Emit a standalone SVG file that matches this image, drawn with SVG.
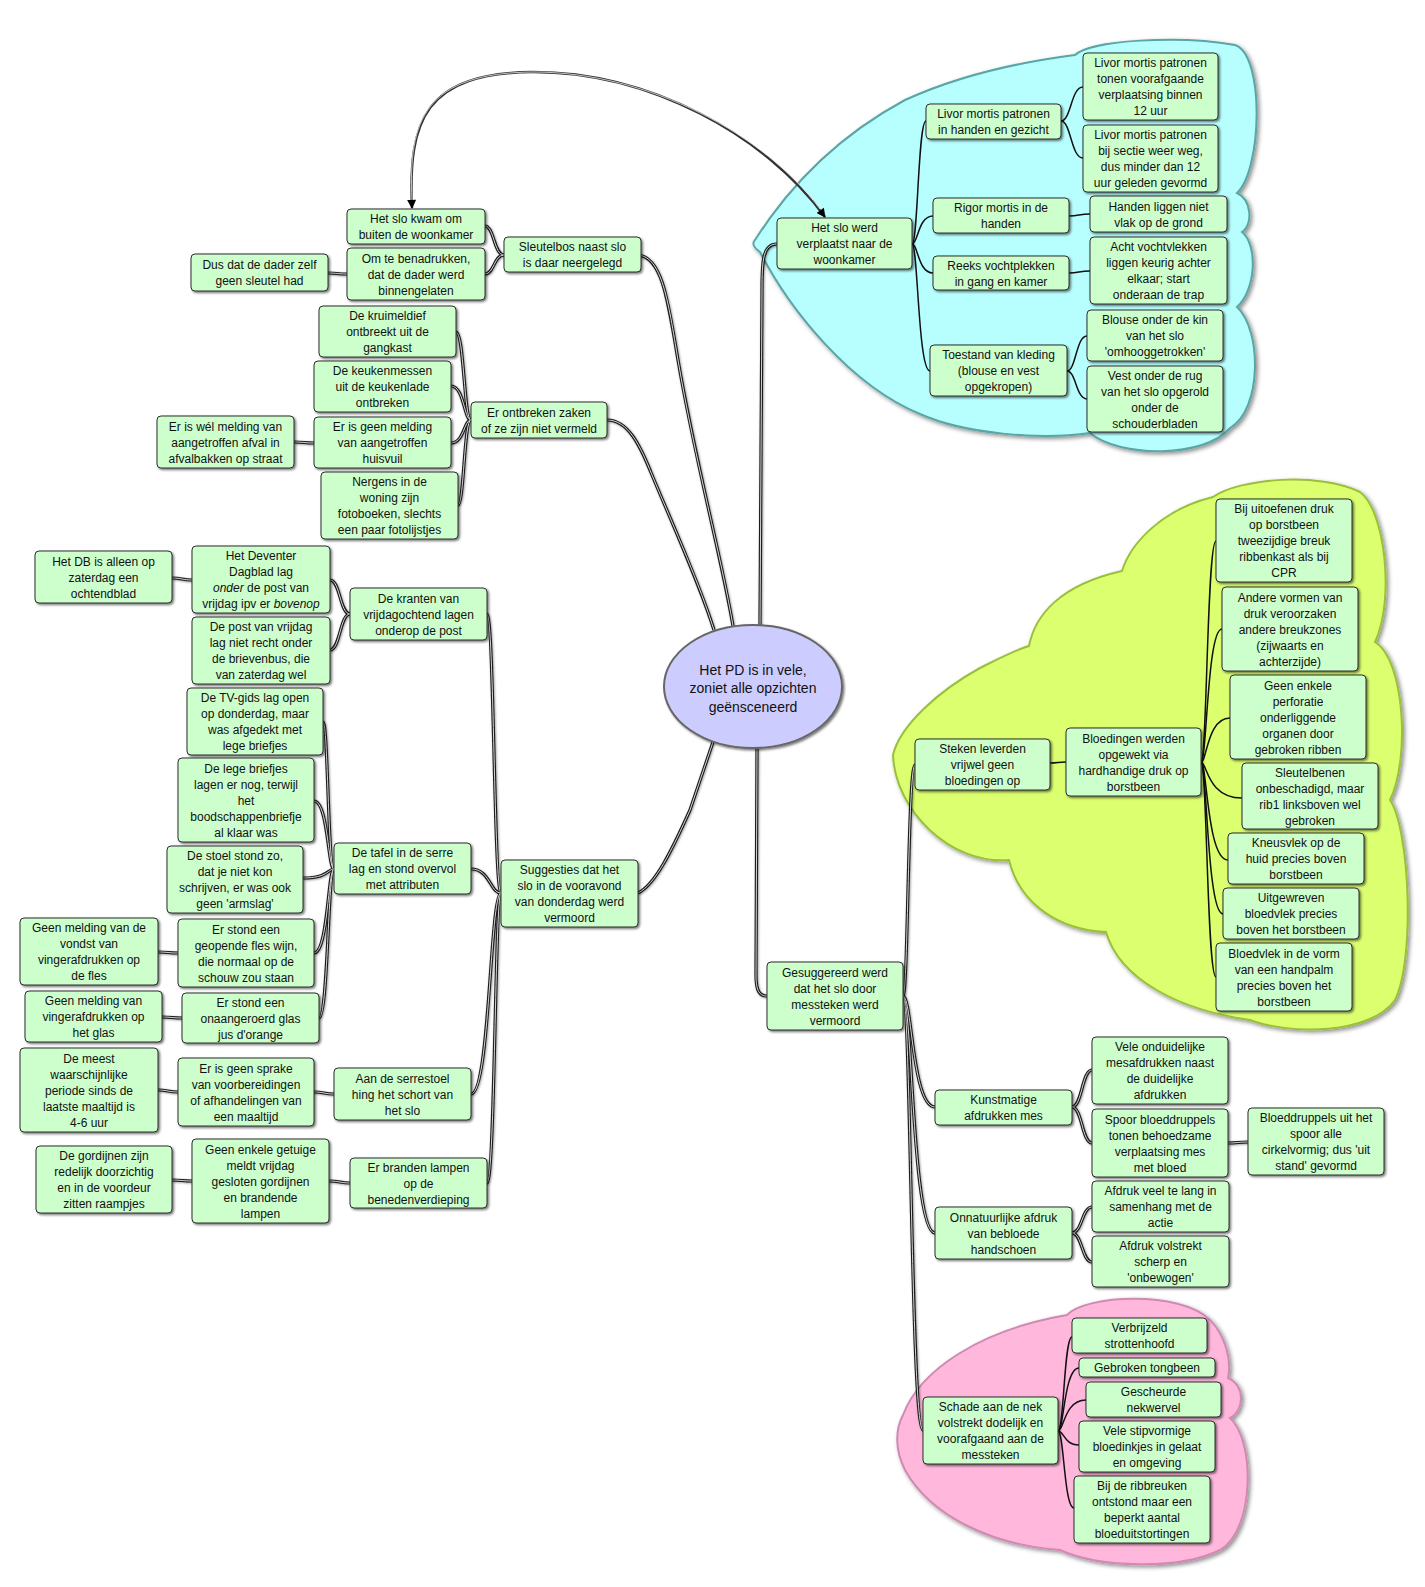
<svg xmlns="http://www.w3.org/2000/svg" xmlns:xlink="http://www.w3.org/1999/xlink" width="1425" height="1587" viewBox="0 0 1425 1587">
<defs>
<style>
.box{fill:#ccffcc;stroke:#2e2e2e;stroke-width:1;filter:url(#sh);}
.t{font-family:"Liberation Sans",Arial,sans-serif;font-size:12px;fill:#111;text-anchor:middle;}
.tc{font-family:"Liberation Sans",Arial,sans-serif;font-size:14px;fill:#111;text-anchor:middle;}
.tube-o{fill:none;stroke:#1a1a1a;stroke-width:3.2;filter:url(#lsh);}
.tube-i{fill:none;stroke:#d6d6d6;stroke-width:1;}
.thin{fill:none;stroke:#111;stroke-width:1.5;}
.cloud{stroke-width:2;filter:url(#csh);}
</style>
<filter id="sh" x="-10%" y="-10%" width="130%" height="140%"><feDropShadow dx="1.5" dy="1.5" stdDeviation="1.2" flood-color="#000" flood-opacity="0.55"/></filter>
<filter id="lsh" x="-5%" y="-5%" width="110%" height="110%"><feDropShadow dx="0.8" dy="0.8" stdDeviation="1" flood-color="#000" flood-opacity="0.4"/></filter>
<filter id="csh" x="-5%" y="-5%" width="115%" height="115%"><feDropShadow dx="2" dy="2" stdDeviation="2" flood-color="#000" flood-opacity="0.45"/></filter>
<marker id="ah" viewBox="0 0 10 10" refX="9" refY="5" markerWidth="10" markerHeight="9" markerUnits="userSpaceOnUse" orient="auto-start-reverse"><path d="M0,0 L10,5 L0,10 z" fill="#000"/></marker>
</defs>
<rect width="1425" height="1587" fill="#fff"/>

<g id="clouds">
<path id="cloud-blue" class="cloud" fill="#b7ffff" stroke="#5aa5a5" d="M755,240 C790,185 840,135 905,100 C960,75 1020,62 1075,55 C1090,40 1180,35 1235,45 C1265,55 1262,170 1237,193 C1252,200 1253,225 1242,232 C1258,245 1256,290 1237,307 C1262,330 1262,410 1230,428 C1205,458 1120,458 1090,433 C1040,440 965,434 920,414 C850,385 790,310 760,252 C753,247 752,243 755,240 Z"/>
<path id="cloud-green" class="cloud" fill="#dcff6f" stroke="#98c03a" d="M893,755 C900,725 940,690 980,668 C1000,658 1015,650 1029,646 C1035,615 1060,585 1122,571 C1130,545 1160,510 1213,497 C1240,478 1320,472 1360,492 C1385,510 1395,600 1375,642 C1405,660 1410,760 1390,800 C1410,830 1415,960 1395,1000 C1370,1035 1290,1035 1250,1020 C1180,1010 1120,980 1106,932 C1060,930 1020,905 1009,860 C950,865 895,810 893,755 Z"/>
<path id="cloud-pink" class="cloud" fill="#ffb8dc" stroke="#d08ab2" d="M903,1415 C920,1370 980,1330 1067,1315 C1085,1295 1180,1290 1210,1320 C1225,1335 1232,1360 1228,1378 C1245,1385 1245,1410 1230,1418 C1255,1440 1255,1530 1220,1550 C1180,1570 1100,1568 1060,1550 C990,1545 930,1515 905,1470 C895,1450 895,1430 903,1415 Z"/>
</g>

<g id="connectors">
<g class="tube-o"><g id="tube">
<path d="M638,255 C662,257 668,300 678,360 C695,460 722,560 733,626"/>
<path d="M607,420 C628,420 640,445 652,475 C675,530 700,585 714,630"/>
<path d="M777,244 C763,244 762,260 762,290 L760,625"/>
<path d="M638,893 C655,885 672,850 690,810 L713,742"/>
<path d="M757,748 L756,975 C756,992 760,996 767,996"/>
<path d="M504,255 C494,255 494,226 485,226"/>
<path d="M504,255 C494,255 494,274 485,274"/>
<path d="M347,274 C337,274 337,273 328,273"/>
<path d="M471,420 C464,420 464,332 456,332"/>
<path d="M471,420 C464,420 464,386 451,386"/>
<path d="M471,420 C464,420 464,443 451,443"/>
<path d="M471,420 C464,420 464,505 458,505"/>
<path d="M314,443 C304,443 304,442 294,442"/>
<path d="M350,614 C340,614 340,580 330,580"/>
<path d="M350,614 C340,614 340,650 330,650"/>
<path d="M192,580 C182,580 182,578 172,578"/>
<path d="M487,614 C494,614 494,893 501,893"/>
<path d="M334,869 C328,869 328,722 323,722"/>
<path d="M334,869 C328,869 328,801 314,801"/>
<path d="M334,869 C328,869 328,878 303,878"/>
<path d="M334,869 C328,869 328,953 314,953"/>
<path d="M334,869 C328,869 328,1018 319,1018"/>
<path d="M178,953 C168,953 168,952 158,952"/>
<path d="M182,1018 C172,1018 172,1017 162,1017"/>
<path d="M471,869 C490,869 490,893 501,893"/>
<path d="M471,1094 C490,1094 490,893 501,893"/>
<path d="M334,1094 C324,1094 324,1092 314,1092"/>
<path d="M178,1092 C168,1092 168,1090 158,1090"/>
<path d="M487,1183 C495,1183 495,893 501,893"/>
<path d="M350,1183 C340,1183 340,1181 329,1181"/>
<path d="M192,1181 C182,1181 182,1180 172,1180"/>
<path d="M903,996 C908,996 908,765 915,765"/>
<path d="M903,996 C912,996 912,1107 935,1107"/>
<path d="M903,996 C912,996 912,1233 935,1233"/>
<path d="M903,996 C911,996 911,1430 923,1430"/>
<path d="M1072,1107 C1082,1107 1082,1070 1092,1070"/>
<path d="M1072,1107 C1082,1107 1082,1143 1092,1143"/>
<path d="M1228,1143 C1238,1143 1238,1142 1248,1142"/>
<path d="M1072,1233 C1082,1233 1082,1207 1092,1207"/>
<path d="M1072,1233 C1082,1233 1082,1262 1092,1262"/>
</g></g>
<use xlink:href="#tube" href="#tube" class="tube-i"/>
<g class="thin">
<path d="M912,244 C918,244 918,121 926,121"/>
<path d="M912,244 C918,244 918,216 933,216"/>
<path d="M912,244 C918,244 918,273 933,273"/>
<path d="M912,244 C918,244 918,371 930,371"/>
<path d="M1061,121 C1071,121 1071,87 1083,87"/>
<path d="M1061,121 C1071,121 1071,158 1083,158"/>
<path d="M1069,216 C1079,216 1079,214 1090,214"/>
<path d="M1069,273 C1079,273 1079,271 1090,271"/>
<path d="M1067,371 C1076,371 1076,336 1087,336"/>
<path d="M1067,371 C1076,371 1076,399 1087,399"/>
<path d="M1050,763 C1058,763 1058,762 1066,762"/>
<path d="M1201,762 C1207,762 1207,541 1216,541"/>
<path d="M1201,762 C1207,762 1207,629 1222,629"/>
<path d="M1201,762 C1207,762 1207,718 1230,718"/>
<path d="M1201,762 C1207,762 1207,798 1242,798"/>
<path d="M1201,762 C1207,762 1207,860 1228,860"/>
<path d="M1201,762 C1207,762 1207,914 1223,914"/>
<path d="M1201,762 C1207,762 1207,977 1216,977"/>
<path d="M1058,1431 C1064,1431 1064,1337 1072,1337"/>
<path d="M1058,1431 C1064,1431 1064,1368 1079,1368"/>
<path d="M1058,1431 C1064,1431 1064,1400 1086,1400"/>
<path d="M1058,1431 C1064,1431 1064,1445 1079,1445"/>
<path d="M1058,1431 C1064,1431 1064,1508 1074,1508"/>
</g>
<path id="arrow" d="M412,208 C408,120 425,73 533,72 C650,72 765,135 825,217" fill="none" stroke="#333" stroke-width="2.4" marker-start="url(#ah)" marker-end="url(#ah)"/>
<path d="M412,200 C408,120 425,73 533,72 C650,72 765,135 820,209" fill="none" stroke="#e8e8e8" stroke-width="0.8"/>
</g>

<g id="center">
<ellipse cx="753" cy="686.5" rx="89" ry="61.5" fill="#ccccff" stroke="#666" stroke-width="2" filter="url(#sh)"/>
<text class="tc"><tspan x="753" y="675">Het PD is in vele,</tspan><tspan x="753" y="693">zoniet alle opzichten</tspan><tspan x="753" y="712">geënsceneerd</tspan></text>
</g>

<g id="n_kwam"><rect class="box" x="347" y="209" width="138" height="35" rx="4"/><text class="t"><tspan x="416" y="223">Het slo kwam om</tspan><tspan x="416" y="239">buiten de woonkamer</tspan></text></g>
<g id="n_benadruk"><rect class="box" x="347" y="248" width="138" height="52" rx="4"/><text class="t"><tspan x="416" y="262.5">Om te benadrukken,</tspan><tspan x="416" y="278.5">dat de dader werd</tspan><tspan x="416" y="294.5">binnengelaten</tspan></text></g>
<g id="n_dus"><rect class="box" x="191" y="254" width="137" height="37" rx="4"/><text class="t"><tspan x="259.5" y="269">Dus dat de dader zelf</tspan><tspan x="259.5" y="285">geen sleutel had</tspan></text></g>
<g id="n_sleutel"><rect class="box" x="504" y="237" width="137" height="35" rx="4"/><text class="t"><tspan x="572.5" y="251">Sleutelbos naast slo</tspan><tspan x="572.5" y="267">is daar neergelegd</tspan></text></g>
<g id="n_kruimel"><rect class="box" x="319" y="306" width="137" height="51" rx="4"/><text class="t"><tspan x="387.5" y="320">De kruimeldief</tspan><tspan x="387.5" y="336">ontbreekt uit de</tspan><tspan x="387.5" y="352">gangkast</tspan></text></g>
<g id="n_keuken"><rect class="box" x="314" y="361" width="137" height="51" rx="4"/><text class="t"><tspan x="382.5" y="375">De keukenmessen</tspan><tspan x="382.5" y="391">uit de keukenlade</tspan><tspan x="382.5" y="407">ontbreken</tspan></text></g>
<g id="n_huisvuil"><rect class="box" x="314" y="417" width="137" height="51" rx="4"/><text class="t"><tspan x="382.5" y="431">Er is geen melding</tspan><tspan x="382.5" y="447">van aangetroffen</tspan><tspan x="382.5" y="463">huisvuil</tspan></text></g>
<g id="n_nergens"><rect class="box" x="321" y="472" width="137" height="67" rx="4"/><text class="t"><tspan x="389.5" y="486">Nergens in de</tspan><tspan x="389.5" y="502">woning zijn</tspan><tspan x="389.5" y="518">fotoboeken, slechts</tspan><tspan x="389.5" y="534">een paar fotolijstjes</tspan></text></g>
<g id="n_ontbreken"><rect class="box" x="471" y="402" width="136" height="36" rx="4"/><text class="t"><tspan x="539" y="416.5">Er ontbreken zaken</tspan><tspan x="539" y="432.5">of  ze zijn niet vermeld</tspan></text></g>
<g id="n_welmelding"><rect class="box" x="157" y="416" width="137" height="52" rx="4"/><text class="t"><tspan x="225.5" y="430.5">Er is wél melding van</tspan><tspan x="225.5" y="446.5">aangetroffen afval in</tspan><tspan x="225.5" y="462.5">afvalbakken op straat</tspan></text></g>
<g id="n_db"><rect class="box" x="35" y="551" width="137" height="52" rx="4"/><text class="t"><tspan x="103.5" y="565.5">Het DB is alleen op</tspan><tspan x="103.5" y="581.5">zaterdag een</tspan><tspan x="103.5" y="597.5">ochtendblad</tspan></text></g>
<g id="n_deventer"><rect class="box" x="192" y="546" width="138" height="67" rx="4"/><text class="t"><tspan x="261" y="560">Het Deventer</tspan><tspan x="261" y="576">Dagblad lag</tspan><tspan x="261" y="592"><tspan font-style="italic">onder</tspan> de post van</tspan><tspan x="261" y="608">vrijdag ipv er <tspan font-style="italic">bovenop</tspan></tspan></text></g>
<g id="n_postvrij"><rect class="box" x="192" y="617" width="138" height="67" rx="4"/><text class="t"><tspan x="261" y="631">De post van vrijdag</tspan><tspan x="261" y="647">lag niet recht onder</tspan><tspan x="261" y="663">de brievenbus, die</tspan><tspan x="261" y="679">van zaterdag wel</tspan></text></g>
<g id="n_kranten"><rect class="box" x="350" y="588" width="137" height="52" rx="4"/><text class="t"><tspan x="418.5" y="602.5">De kranten van</tspan><tspan x="418.5" y="618.5">vrijdagochtend lagen</tspan><tspan x="418.5" y="634.5">onderop de post</tspan></text></g>
<g id="n_tvgids"><rect class="box" x="187" y="688" width="136" height="67" rx="4"/><text class="t"><tspan x="255" y="702">De TV-gids lag open</tspan><tspan x="255" y="718">op donderdag, maar</tspan><tspan x="255" y="734">was afgedekt met</tspan><tspan x="255" y="750">lege briefjes</tspan></text></g>
<g id="n_lege"><rect class="box" x="178" y="758" width="136" height="84" rx="4"/><text class="t"><tspan x="246" y="772.5">De lege briefjes</tspan><tspan x="246" y="788.5">lagen er nog, terwijl</tspan><tspan x="246" y="804.5">het</tspan><tspan x="246" y="820.5">boodschappenbriefje</tspan><tspan x="246" y="836.5">al klaar was</tspan></text></g>
<g id="n_stoel"><rect class="box" x="167" y="846" width="136" height="67" rx="4"/><text class="t"><tspan x="235" y="860">De stoel stond zo,</tspan><tspan x="235" y="876">dat je niet kon</tspan><tspan x="235" y="892">schrijven, er was ook</tspan><tspan x="235" y="908">geen 'armslag'</tspan></text></g>
<g id="n_tafel"><rect class="box" x="334" y="843" width="137" height="51" rx="4"/><text class="t"><tspan x="402.5" y="857">De tafel in de serre</tspan><tspan x="402.5" y="873">lag en stond overvol</tspan><tspan x="402.5" y="889">met attributen</tspan></text></g>
<g id="n_fles"><rect class="box" x="178" y="919" width="136" height="68" rx="4"/><text class="t"><tspan x="246" y="933.5">Er stond een</tspan><tspan x="246" y="949.5">geopende fles wijn,</tspan><tspan x="246" y="965.5">die normaal op de</tspan><tspan x="246" y="981.5">schouw zou staan</tspan></text></g>
<g id="n_flesmeld"><rect class="box" x="20" y="918" width="138" height="67" rx="4"/><text class="t"><tspan x="89" y="932">Geen melding van de</tspan><tspan x="89" y="948">vondst van</tspan><tspan x="89" y="964">vingerafdrukken op</tspan><tspan x="89" y="980">de fles</tspan></text></g>
<g id="n_glas"><rect class="box" x="182" y="993" width="137" height="50" rx="4"/><text class="t"><tspan x="250.5" y="1006.5">Er stond een</tspan><tspan x="250.5" y="1022.5">onaangeroerd glas</tspan><tspan x="250.5" y="1038.5">jus d'orange</tspan></text></g>
<g id="n_glasmeld"><rect class="box" x="25" y="991" width="137" height="51" rx="4"/><text class="t"><tspan x="93.5" y="1005">Geen melding van</tspan><tspan x="93.5" y="1021">vingerafdrukken op</tspan><tspan x="93.5" y="1037">het glas</tspan></text></g>
<g id="n_meest"><rect class="box" x="20" y="1048" width="138" height="84" rx="4"/><text class="t"><tspan x="89" y="1062.5">De meest</tspan><tspan x="89" y="1078.5">waarschijnlijke</tspan><tspan x="89" y="1094.5">periode sinds de</tspan><tspan x="89" y="1110.5">laatste maaltijd is</tspan><tspan x="89" y="1126.5">4-6 uur</tspan></text></g>
<g id="n_voorb"><rect class="box" x="178" y="1058" width="136" height="68" rx="4"/><text class="t"><tspan x="246" y="1072.5">Er is geen sprake</tspan><tspan x="246" y="1088.5">van voorbereidingen</tspan><tspan x="246" y="1104.5">of afhandelingen van</tspan><tspan x="246" y="1120.5">een maaltijd</tspan></text></g>
<g id="n_serre"><rect class="box" x="334" y="1068" width="137" height="52" rx="4"/><text class="t"><tspan x="402.5" y="1082.5">Aan de serrestoel</tspan><tspan x="402.5" y="1098.5">hing het schort van</tspan><tspan x="402.5" y="1114.5">het slo</tspan></text></g>
<g id="n_gordijn"><rect class="box" x="36" y="1146" width="136" height="67" rx="4"/><text class="t"><tspan x="104" y="1160">De gordijnen zijn</tspan><tspan x="104" y="1176">redelijk doorzichtig</tspan><tspan x="104" y="1192">en in de voordeur</tspan><tspan x="104" y="1208">zitten raampjes</tspan></text></g>
<g id="n_getuige"><rect class="box" x="192" y="1139" width="137" height="84" rx="4"/><text class="t"><tspan x="260.5" y="1153.5">Geen enkele getuige</tspan><tspan x="260.5" y="1169.5">meldt vrijdag</tspan><tspan x="260.5" y="1185.5">gesloten gordijnen</tspan><tspan x="260.5" y="1201.5">en brandende</tspan><tspan x="260.5" y="1217.5">lampen</tspan></text></g>
<g id="n_branden"><rect class="box" x="350" y="1158" width="137" height="50" rx="4"/><text class="t"><tspan x="418.5" y="1171.5">Er branden lampen</tspan><tspan x="418.5" y="1187.5">op de</tspan><tspan x="418.5" y="1203.5">benedenverdieping</tspan></text></g>
<g id="n_sugg"><rect class="box" x="501" y="860" width="137" height="67" rx="4"/><text class="t"><tspan x="569.5" y="874">Suggesties dat het</tspan><tspan x="569.5" y="890">slo in de vooravond</tspan><tspan x="569.5" y="906">van  donderdag werd</tspan><tspan x="569.5" y="922">vermoord</tspan></text></g>

<g id="n_verpl"><rect class="box" x="777" y="218" width="135" height="51" rx="4"/><text class="t"><tspan x="844.5" y="232">Het slo werd</tspan><tspan x="844.5" y="248">verplaatst naar de</tspan><tspan x="844.5" y="264">woonkamer</tspan></text></g>
<g id="n_livor"><rect class="box" x="926" y="104" width="135" height="35" rx="4"/><text class="t"><tspan x="993.5" y="118">Livor mortis patronen</tspan><tspan x="993.5" y="134">in handen en gezicht</tspan></text></g>
<g id="n_tonen"><rect class="box" x="1083" y="53" width="135" height="67" rx="4"/><text class="t"><tspan x="1150.5" y="67">Livor mortis patronen</tspan><tspan x="1150.5" y="83">tonen voorafgaande</tspan><tspan x="1150.5" y="99">verplaatsing binnen</tspan><tspan x="1150.5" y="115">12 uur</tspan></text></g>
<g id="n_sectie"><rect class="box" x="1083" y="125" width="135" height="67" rx="4"/><text class="t"><tspan x="1150.5" y="139">Livor mortis patronen</tspan><tspan x="1150.5" y="155">bij sectie weer weg,</tspan><tspan x="1150.5" y="171">dus minder dan 12</tspan><tspan x="1150.5" y="187">uur geleden gevormd</tspan></text></g>
<g id="n_rigor"><rect class="box" x="933" y="198" width="136" height="35" rx="4"/><text class="t"><tspan x="1001" y="212">Rigor mortis in de</tspan><tspan x="1001" y="228">handen</tspan></text></g>
<g id="n_handen"><rect class="box" x="1090" y="196" width="137" height="36" rx="4"/><text class="t"><tspan x="1158.5" y="210.5">Handen liggen niet</tspan><tspan x="1158.5" y="226.5">vlak op de grond</tspan></text></g>
<g id="n_reeks"><rect class="box" x="933" y="256" width="136" height="34" rx="4"/><text class="t"><tspan x="1001" y="269.5">Reeks vochtplekken</tspan><tspan x="1001" y="285.5">in gang en kamer</tspan></text></g>
<g id="n_acht"><rect class="box" x="1090" y="237" width="137" height="67" rx="4"/><text class="t"><tspan x="1158.5" y="251">Acht vochtvlekken</tspan><tspan x="1158.5" y="267">liggen keurig achter</tspan><tspan x="1158.5" y="283">elkaar; start</tspan><tspan x="1158.5" y="299">onderaan de trap</tspan></text></g>
<g id="n_toestand"><rect class="box" x="930" y="345" width="137" height="51" rx="4"/><text class="t"><tspan x="998.5" y="359">Toestand van kleding</tspan><tspan x="998.5" y="375">(blouse en vest</tspan><tspan x="998.5" y="391">opgekropen)</tspan></text></g>
<g id="n_blouse"><rect class="box" x="1087" y="310" width="136" height="51" rx="4"/><text class="t"><tspan x="1155" y="324">Blouse onder de kin</tspan><tspan x="1155" y="340">van het slo</tspan><tspan x="1155" y="356">'omhooggetrokken'</tspan></text></g>
<g id="n_vest"><rect class="box" x="1087" y="366" width="136" height="66" rx="4"/><text class="t"><tspan x="1155" y="379.5">Vest onder de rug</tspan><tspan x="1155" y="395.5">van het slo opgerold</tspan><tspan x="1155" y="411.5">onder de</tspan><tspan x="1155" y="427.5">schouderbladen</tspan></text></g>

<g id="n_bij"><rect class="box" x="1216" y="499" width="136" height="83" rx="4"/><text class="t"><tspan x="1284" y="513">Bij uitoefenen druk</tspan><tspan x="1284" y="529">op borstbeen</tspan><tspan x="1284" y="545">tweezijdige breuk</tspan><tspan x="1284" y="561">ribbenkast als bij</tspan><tspan x="1284" y="577">CPR</tspan></text></g>
<g id="n_andere"><rect class="box" x="1222" y="587" width="136" height="84" rx="4"/><text class="t"><tspan x="1290" y="601.5">Andere vormen van</tspan><tspan x="1290" y="617.5">druk veroorzaken</tspan><tspan x="1290" y="633.5">andere breukzones</tspan><tspan x="1290" y="649.5">(zijwaarts en</tspan><tspan x="1290" y="665.5">achterzijde)</tspan></text></g>
<g id="n_perfor"><rect class="box" x="1230" y="675" width="136" height="84" rx="4"/><text class="t"><tspan x="1298" y="689.5">Geen enkele</tspan><tspan x="1298" y="705.5">perforatie</tspan><tspan x="1298" y="721.5">onderliggende</tspan><tspan x="1298" y="737.5">organen door</tspan><tspan x="1298" y="753.5">gebroken ribben</tspan></text></g>
<g id="n_sleutelb"><rect class="box" x="1242" y="763" width="136" height="66" rx="4"/><text class="t"><tspan x="1310" y="776.5">Sleutelbenen</tspan><tspan x="1310" y="792.5">onbeschadigd, maar</tspan><tspan x="1310" y="808.5">rib1 linksboven wel</tspan><tspan x="1310" y="824.5">gebroken</tspan></text></g>
<g id="n_steken"><rect class="box" x="915" y="739" width="135" height="51" rx="4"/><text class="t"><tspan x="982.5" y="753">Steken leverden</tspan><tspan x="982.5" y="769">vrijwel geen</tspan><tspan x="982.5" y="785">bloedingen op</tspan></text></g>
<g id="n_bloedingen"><rect class="box" x="1066" y="728" width="135" height="68" rx="4"/><text class="t"><tspan x="1133.5" y="742.5">Bloedingen werden</tspan><tspan x="1133.5" y="758.5">opgewekt via</tspan><tspan x="1133.5" y="774.5">hardhandige druk op</tspan><tspan x="1133.5" y="790.5">borstbeen</tspan></text></g>
<g id="n_kneus"><rect class="box" x="1228" y="833" width="136" height="51" rx="4"/><text class="t"><tspan x="1296" y="847">Kneusvlek op de</tspan><tspan x="1296" y="863">huid precies boven</tspan><tspan x="1296" y="879">borstbeen</tspan></text></g>
<g id="n_uitgew"><rect class="box" x="1223" y="888" width="136" height="51" rx="4"/><text class="t"><tspan x="1291" y="902">Uitgewreven</tspan><tspan x="1291" y="918">bloedvlek precies</tspan><tspan x="1291" y="934">boven het borstbeen</tspan></text></g>
<g id="n_handpalm"><rect class="box" x="1216" y="943" width="136" height="68" rx="4"/><text class="t"><tspan x="1284" y="957.5">Bloedvlek in de vorm</tspan><tspan x="1284" y="973.5">van een handpalm</tspan><tspan x="1284" y="989.5">precies boven het</tspan><tspan x="1284" y="1005.5">borstbeen</tspan></text></g>

<g id="n_gesugg"><rect class="box" x="767" y="962" width="136" height="68" rx="4"/><text class="t"><tspan x="835" y="976.5">Gesuggereerd werd</tspan><tspan x="835" y="992.5">dat het slo door</tspan><tspan x="835" y="1008.5">messteken werd</tspan><tspan x="835" y="1024.5">vermoord</tspan></text></g>
<g id="n_kunst"><rect class="box" x="935" y="1090" width="137" height="35" rx="4"/><text class="t"><tspan x="1003.5" y="1104">Kunstmatige</tspan><tspan x="1003.5" y="1120">afdrukken mes</tspan></text></g>
<g id="n_vele"><rect class="box" x="1092" y="1037" width="136" height="67" rx="4"/><text class="t"><tspan x="1160" y="1051">Vele onduidelijke</tspan><tspan x="1160" y="1067">mesafdrukken naast</tspan><tspan x="1160" y="1083">de duidelijke</tspan><tspan x="1160" y="1099">afdrukken</tspan></text></g>
<g id="n_spoor"><rect class="box" x="1092" y="1109" width="136" height="68" rx="4"/><text class="t"><tspan x="1160" y="1123.5">Spoor bloeddruppels</tspan><tspan x="1160" y="1139.5">tonen behoedzame</tspan><tspan x="1160" y="1155.5">verplaatsing mes</tspan><tspan x="1160" y="1171.5">met bloed</tspan></text></g>
<g id="n_druppels"><rect class="box" x="1248" y="1108" width="136" height="67" rx="4"/><text class="t"><tspan x="1316" y="1122">Bloeddruppels uit het</tspan><tspan x="1316" y="1138">spoor alle</tspan><tspan x="1316" y="1154">cirkelvormig; dus 'uit</tspan><tspan x="1316" y="1170">stand' gevormd</tspan></text></g>
<g id="n_onnat"><rect class="box" x="935" y="1207" width="137" height="52" rx="4"/><text class="t"><tspan x="1003.5" y="1221.5">Onnatuurlijke afdruk</tspan><tspan x="1003.5" y="1237.5">van bebloede</tspan><tspan x="1003.5" y="1253.5">handschoen</tspan></text></g>
<g id="n_lang"><rect class="box" x="1092" y="1181" width="137" height="51" rx="4"/><text class="t"><tspan x="1160.5" y="1195">Afdruk veel te lang in</tspan><tspan x="1160.5" y="1211">samenhang met de</tspan><tspan x="1160.5" y="1227">actie</tspan></text></g>
<g id="n_volstrekt"><rect class="box" x="1092" y="1236" width="137" height="51" rx="4"/><text class="t"><tspan x="1160.5" y="1250">Afdruk volstrekt</tspan><tspan x="1160.5" y="1266">scherp en</tspan><tspan x="1160.5" y="1282">'onbewogen'</tspan></text></g>

<g id="n_schade"><rect class="box" x="923" y="1397" width="135" height="67" rx="4"/><text class="t"><tspan x="990.5" y="1411">Schade aan de nek</tspan><tspan x="990.5" y="1427">volstrekt dodelijk en</tspan><tspan x="990.5" y="1443">voorafgaand aan de</tspan><tspan x="990.5" y="1459">messteken</tspan></text></g>
<g id="n_verbrijz"><rect class="box" x="1072" y="1318" width="135" height="35" rx="4"/><text class="t"><tspan x="1139.5" y="1332">Verbrijzeld</tspan><tspan x="1139.5" y="1348">strottenhoofd</tspan></text></g>
<g id="n_tongbeen"><rect class="box" x="1079" y="1358" width="136" height="19" rx="4"/><text class="t"><tspan x="1147" y="1372">Gebroken tongbeen</tspan></text></g>
<g id="n_gescheurd"><rect class="box" x="1086" y="1382" width="135" height="35" rx="4"/><text class="t"><tspan x="1153.5" y="1396">Gescheurde</tspan><tspan x="1153.5" y="1412">nekwervel</tspan></text></g>
<g id="n_stip"><rect class="box" x="1079" y="1421" width="136" height="51" rx="4"/><text class="t"><tspan x="1147" y="1435">Vele stipvormige</tspan><tspan x="1147" y="1451">bloedinkjes in gelaat</tspan><tspan x="1147" y="1467">en omgeving</tspan></text></g>
<g id="n_ribbreuk"><rect class="box" x="1074" y="1476" width="136" height="67" rx="4"/><text class="t"><tspan x="1142" y="1490">Bij de ribbreuken</tspan><tspan x="1142" y="1506">ontstond maar een</tspan><tspan x="1142" y="1522">beperkt aantal</tspan><tspan x="1142" y="1538">bloeduitstortingen</tspan></text></g>
</svg>
